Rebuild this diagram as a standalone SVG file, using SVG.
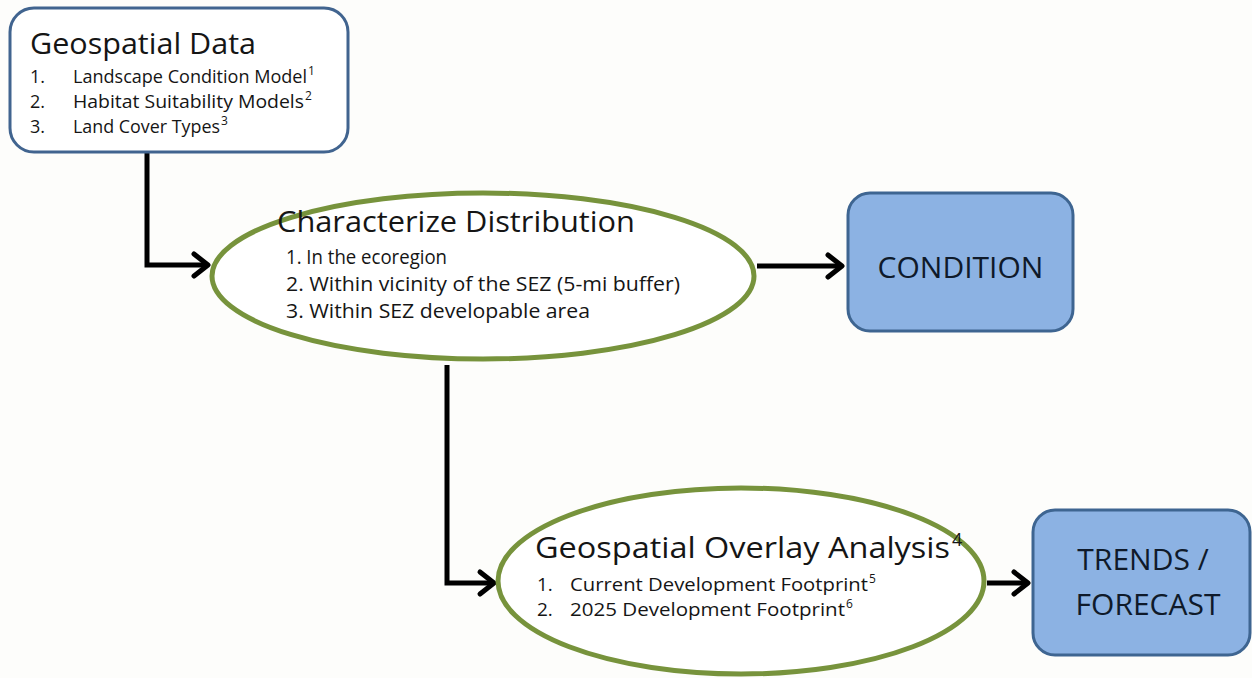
<svg xmlns="http://www.w3.org/2000/svg" width="1252" height="678" viewBox="0 0 1252 678">
<style>
  text { font-family: "Open Sans", "Liberation Sans", sans-serif; fill: #151515; }
  .title { font-size: 30px; }
  .item { font-size: 18px; }
  .item2 { font-size: 20px; }
  .item3 { font-size: 19px; }
  .sup { font-size: 12px; }
  .big { font-size: 30px; fill: #0f1a2a; }
  .box { fill: #fff; stroke: #41648f; stroke-width: 3; }
  .blue { fill: #8cb2e3; stroke: #3e6591; stroke-width: 3; }
  .ell { fill: #fff; stroke: #77933c; stroke-width: 5; }
  .conn { fill: none; stroke: #000; stroke-width: 5; }
</style>
<defs>
  <marker id="arr" markerWidth="10" markerHeight="10" refX="8" refY="5" orient="auto" markerUnits="userSpaceOnUse" viewBox="0 0 10 10" overflow="visible">
    <path d="M-6,-6 L8,5 L-6,16" fill="none" stroke="#000" stroke-width="5" stroke-linecap="round" stroke-linejoin="round"/>
  </marker>
</defs>
<rect width="1252" height="678" fill="#fdfdfb"/>
<g id="connectors">
  <path class="conn" d="M147,152 V265 H208" marker-end="url(#arr)"/>
  <path class="conn" d="M757,266 H842" marker-end="url(#arr)"/>
  <path class="conn" d="M447,365 V583 H494" marker-end="url(#arr)"/>
  <path class="conn" d="M987,583 H1028" marker-end="url(#arr)"/>
</g>
<g id="geospatial-data">
  <rect class="box" x="10" y="8" width="338" height="144" rx="24"/>
  <text class="title" x="30" y="54" textLength="226" lengthAdjust="spacingAndGlyphs">Geospatial Data</text>
  <text class="item" x="30" y="83">1.</text>
  <text class="item" x="73" y="83" textLength="234" lengthAdjust="spacingAndGlyphs">Landscape Condition Model</text>
  <text class="sup" x="308" y="75">1</text>
  <text class="item" x="30" y="108">2.</text>
  <text class="item" x="73" y="108" textLength="231" lengthAdjust="spacingAndGlyphs">Habitat Suitability Models</text>
  <text class="sup" x="305" y="100">2</text>
  <text class="item" x="30" y="133">3.</text>
  <text class="item" x="73" y="133" textLength="147" lengthAdjust="spacingAndGlyphs">Land Cover Types</text>
  <text class="sup" x="221" y="125">3</text>
</g>
<g id="characterize-distribution">
  <ellipse class="ell" cx="483" cy="276" rx="271" ry="83"/>
  <text class="title" x="277" y="232" textLength="358" lengthAdjust="spacingAndGlyphs">Characterize Distribution</text>
  <text class="item2" x="286" y="264" textLength="161" lengthAdjust="spacingAndGlyphs">1. In the ecoregion</text>
  <text class="item2" x="286" y="291" textLength="394" lengthAdjust="spacingAndGlyphs">2. Within vicinity of the SEZ (5-mi buffer)</text>
  <text class="item2" x="286" y="318" textLength="304" lengthAdjust="spacingAndGlyphs">3. Within SEZ developable area</text>
</g>
<g id="condition">
  <rect class="blue" x="848" y="193" width="225" height="138" rx="22"/>
  <text class="big" x="960.5" y="278" text-anchor="middle">CONDITION</text>
</g>
<g id="overlay-analysis">
  <ellipse class="ell" cx="741" cy="581" rx="243" ry="93"/>
  <text class="title" x="535" y="558" textLength="415" lengthAdjust="spacingAndGlyphs">Geospatial Overlay Analysis</text>
  <text x="952" y="546" font-size="18">4</text>
  <text class="item3" x="537" y="591">1.</text>
  <text class="item3" x="570" y="591" textLength="298" lengthAdjust="spacingAndGlyphs">Current Development Footprint</text>
  <text class="sup" x="869" y="583">5</text>
  <text class="item3" x="537" y="616">2.</text>
  <text class="item3" x="570" y="616" textLength="275" lengthAdjust="spacingAndGlyphs">2025 Development Footprint</text>
  <text class="sup" x="846" y="608">6</text>
</g>
<g id="trends-forecast">
  <rect class="blue" x="1033" y="510" width="217" height="145" rx="22"/>
  <text class="big" x="1143" y="570" text-anchor="middle">TRENDS /</text>
  <text class="big" x="1148" y="615" text-anchor="middle">FORECAST</text>
</g>
</svg>
